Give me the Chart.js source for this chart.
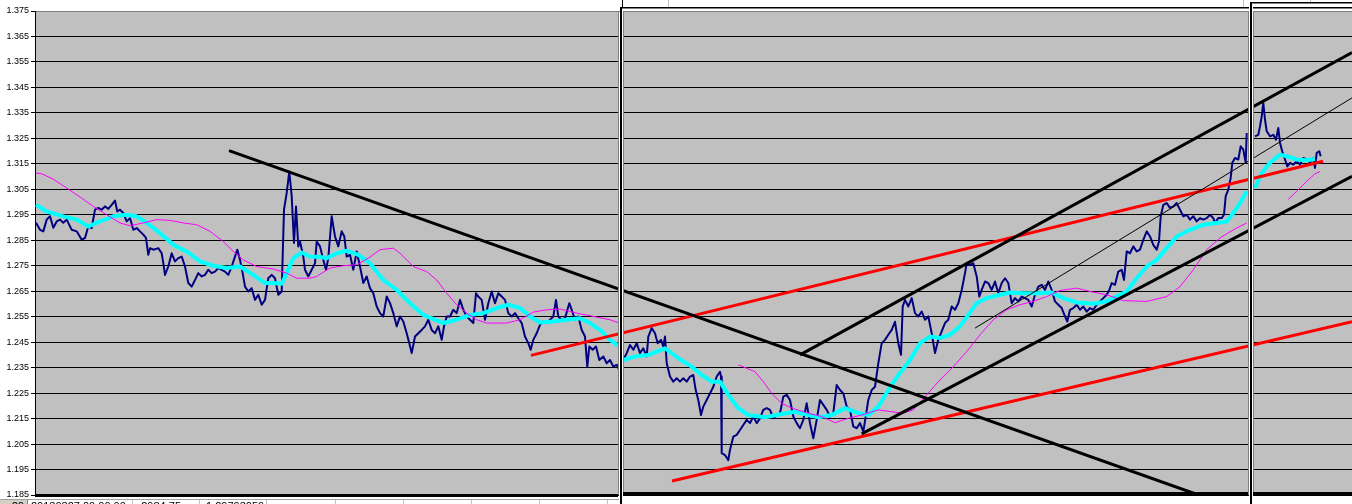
<!DOCTYPE html>
<html>
<head>
<meta charset="utf-8">
<script src="https://cdn.jsdelivr.net/npm/chart.js@4.4.1/dist/chart.umd.min.js"></script>
<style>
  body { margin: 0; background: #fff; }
  #wrap { position: relative; width: 1352px; height: 504px; overflow: hidden; }
  #sheet { position: absolute; left: 0; top: 499px; width: 619px; height: 5px; overflow: hidden;
           border-top: 1px solid #a0a0a0; font: 11px "Liberation Sans", Arial, sans-serif; color: #000; }
  .cell { position: absolute; top: 0; height: 14px; line-height: 13px; border-right: 1px solid #c0c0c0; white-space: nowrap; }
  .hdr { background: #d4d0c8; border-right: 1px solid #808080; text-align: right; }
</style>
</head>
<body>
<div id="wrap">
  <canvas id="chart" width="1352" height="504"></canvas>
  <div id="sheet">
    <div class="cell hdr" style="left:0;width:27px;padding-right:0">20&nbsp;</div>
    <div class="cell" style="left:28px;width:105px;padding-left:3px;box-sizing:border-box">20130827 00:00:00</div>
    <div class="cell" style="left:134px;width:66px;text-align:right;padding-right:18px;box-sizing:border-box">2984.75</div>
    <div class="cell" style="left:201px;width:66px;padding-left:5px;box-sizing:border-box">1.29793059</div>
    <div class="cell" style="left:268px;width:67px"></div>
    <div class="cell" style="left:336px;width:67px"></div>
    <div class="cell" style="left:404px;width:67px"></div>
    <div class="cell" style="left:472px;width:67px"></div>
    <div class="cell" style="left:540px;width:67px"></div>
  </div>
</div>
<script>
// y axis ticks
const yTicks = [1.185, 1.195, 1.205, 1.215, 1.225, 1.235, 1.245, 1.255, 1.265, 1.275,
                1.285, 1.295, 1.305, 1.315, 1.325, 1.335, 1.345, 1.355, 1.365, 1.375];

// price (bar index, close) - one array per chart window
const price1 = [[36,1.2919],[40,1.2891],[43.3,1.2885],[46.7,1.2931],[50,1.2944],[53.3,1.2899],[56.7,1.2924],[60,1.2931],[63.3,1.2919],[66.7,1.2931],
  [71.7,1.2891],[76.7,1.2885],[81.7,1.2852],[85,1.2859],[88.3,1.2904],[91.7,1.2898],[95,1.2970],[98.3,1.2977],[101.7,1.2970],[105,1.2983],
  [108.3,1.2973],[111.7,1.2989],[115,1.3006],[117.3,1.2963],[120,1.2970],[123.3,1.2957],[126.7,1.2924],[130,1.2937],[133.3,1.2891],[136.7,1.2898],
  [140,1.2885],[143.3,1.2872],[146,1.2859],[148.3,1.2793],[150,1.2819],[153.3,1.2813],[158.3,1.2819],[161.7,1.2799],[163.3,1.2760],[165,1.2714],
  [168.3,1.2747],[171.7,1.2799],[175,1.2767],[178.3,1.2780],[181.7,1.2786],[185,1.2747],[188.3,1.2682],[191.7,1.2668],[195,1.2694],[198.3,1.2721],
  [201.7,1.2708],[205,1.2714],[208.3,1.2734],[211.7,1.2721],[215,1.2727],[218.3,1.2741],[221.7,1.2734],[225,1.2727],[228.3,1.2714],[231.7,1.2747],
  [235,1.2786],[237.3,1.2813],[240,1.2773],[242.7,1.2721],[245,1.2668],[248.3,1.2649],[251.7,1.2662],[255,1.2616],[258.3,1.2636],[261.7,1.2597],
  [265,1.2616],[268.3,1.2701],[271.7,1.2714],[275,1.2701],[278.3,1.2636],[281.7,1.2649],[284,1.2970],[286.7,1.3036],[289.3,1.3120],[291.7,1.3023],
  [294,1.2839],[296,1.2983],[298.3,1.2826],[300,1.2845],[303.3,1.2786],[305,1.2734],[308.3,1.2708],[311.7,1.2734],[315,1.2760],[316.7,1.2845],
  [320,1.2826],[323.3,1.2773],[326,1.2734],[328.3,1.2780],[331.7,1.2944],[335,1.2865],[338.3,1.2826],[341.7,1.2885],[344.3,1.2865],[346.7,1.2786],
  [350,1.2793],[353.3,1.2734],[356.7,1.2806],[360,1.2747],[363.3,1.2682],[366.7,1.2708],[370,1.2662],[373.3,1.2642],[376.7,1.2590],[380,1.2564],
  [383.3,1.2551],[386.7,1.2629],[390,1.2603],[393.3,1.2564],[396.7,1.2512],[400,1.2551],[403.3,1.2531],[406.7,1.2485],[409.3,1.2446],[411.7,1.2407],
  [415,1.2472],[418.3,1.2485],[421.7,1.2498],[425,1.2512],[428.3,1.2538],[431.7,1.2498],[435,1.2485],[438.3,1.2512],[441.7,1.2459],[444,1.2512],
  [446.7,1.2551],[450,1.2551],[453.3,1.2577],[456.7,1.2564],[460,1.2616],[463.3,1.2577],[466.7,1.2551],[470,1.2538],[473.3,1.2525],[476,1.2642],
  [478.3,1.2629],[481.7,1.2616],[485,1.2538],[488.3,1.2603],[491.7,1.2649],[495,1.2603],[498.3,1.2642],[501.7,1.2629],[505,1.2616],[508.3,1.2564],
  [511.7,1.2551],[515,1.2564],[518.3,1.2544],[521.7,1.2525],[525,1.2472],[528.3,1.2446],[530.7,1.2420],[533.3,1.2459],[536.7,1.2485],[540,1.2518],
  [543.3,1.2531],[546.7,1.2525],[550,1.2538],[553.3,1.2551],[556,1.2616],[558.3,1.2551],[561.7,1.2538],[565,1.2544],[569.3,1.2603],[571.7,1.2577],
  [575,1.2538],[578.3,1.2551],[581.7,1.2498],[585,1.2472],[587.3,1.2354],[589.3,1.2433],[592.7,1.2420],[596,1.2433],[599.3,1.2380],[603.3,1.2394],
  [606.7,1.2367],[610,1.2380],[613.3,1.2354],[616.7,1.2361],[619.3,1.2341]];
const price2 = [[623.3,1.2380],[626.7,1.2407],[630,1.2439],[633.3,1.2420],[636.7,1.2446],[640,1.2407],[643.3,1.2426],[646.7,1.2394],[648.3,1.2472],[651.7,1.2505],
  [655,1.2485],[657.7,1.2446],[661,1.2459],[663.3,1.2433],[665,1.2472],[666.7,1.2367],[670,1.2315],[673.3,1.2295],[676.7,1.2308],[680,1.2295],
  [683.3,1.2308],[686.7,1.2295],[690,1.2315],[693.3,1.2321],[695.7,1.2262],[698.3,1.2223],[701,1.2164],[703.3,1.2197],[706.7,1.2223],[710,1.2249],
  [713.3,1.2275],[716.7,1.2315],[720,1.2334],[721,1.2315],[721.7,1.2014],[725,1.2007],[728.3,1.1987],[730,1.2027],[733.3,1.2079],[736.7,1.2086],
  [740,1.2105],[743.3,1.2125],[746.7,1.2145],[750,1.2132],[753.3,1.2158],[756.7,1.2132],[760,1.2151],[763.3,1.2184],[766.7,1.2191],[770,1.2184],
  [773.3,1.2151],[776.7,1.2164],[780,1.2171],[783.3,1.2236],[786.7,1.2243],[790,1.2223],[793.3,1.2158],[796.7,1.2132],[800,1.2112],[803.3,1.2145],
  [806.7,1.2210],[810,1.2132],[813.3,1.2073],[816.7,1.2145],[820,1.2223],[823.3,1.2204],[826.7,1.2184],[830,1.2158],[833.3,1.2171],[836.7,1.2282],
  [840,1.2262],[843.3,1.2249],[846.7,1.2197],[850,1.2184],[853.3,1.2119],[856.7,1.2112],[860,1.2132],[863.3,1.2099],[865.7,1.2158],[868.3,1.2223],
  [871.7,1.2262],[875,1.2275],[878.3,1.2367],[881.7,1.2446],[885,1.2459],[888.3,1.2479],[891.7,1.2498],[895,1.2530],[898.3,1.2446],[901,1.2400],
  [902.7,1.2590],[905,1.2616],[908.3,1.2590],[911.7,1.2623],[915,1.2564],[918.3,1.2551],[921.7,1.2570],[925,1.2538],[928.3,1.2551],[931.7,1.2485],
  [935,1.2407],[938.3,1.2459],[941.7,1.2492],[945,1.2525],[948.3,1.2538],[951.7,1.2590],[955,1.2577],[958.3,1.2603],[961.7,1.2655],[965,1.2721],
  [966.7,1.2760],[970,1.2753],[973.3,1.2760],[976.7,1.2708],[979.3,1.2629],[981.7,1.2655],[985,1.2688],[988.3,1.2682],[991.7,1.2655],[995,1.2688],
  [998.3,1.2642],[1001.7,1.2682],[1005,1.2701],[1008.3,1.2682],[1011.7,1.2603],[1015,1.2623],[1018.3,1.2610],[1021.7,1.2629],[1025,1.2623],[1028.3,1.2616],
  [1031.7,1.2590],[1035,1.2636],[1038.3,1.2668],[1041.7,1.2675],[1045,1.2655],[1048.3,1.2688],[1051.7,1.2655],[1055,1.2610],[1058.3,1.2597],[1061.7,1.2584],
  [1065,1.2551],[1067.3,1.2531],[1070,1.2577],[1073.3,1.2584],[1076.7,1.2597],[1080,1.2577],[1083.3,1.2590],[1086.7,1.2570],[1090,1.2584],[1093.3,1.2577],
  [1096.7,1.2597],[1100,1.2610],[1103.3,1.2623],[1106.7,1.2636],[1109.3,1.2655],[1111.7,1.2682],[1115,1.2675],[1118.3,1.2727],[1121.7,1.2734],[1124,1.2694],
  [1126.7,1.2806],[1130,1.2799],[1133.3,1.2826],[1136.7,1.2806],[1140,1.2813],[1143.3,1.2852],[1146.7,1.2885],[1150,1.2865],[1153.3,1.2832],[1156.7,1.2813],
  [1159,1.2845],[1160.7,1.2944],[1163.3,1.2989],[1166.7,1.2996],[1170,1.2977],[1173.3,1.2983],[1176.7,1.2996],[1180,1.2970],[1183.3,1.2944],[1186.7,1.2950],
  [1190,1.2931],[1193.3,1.2944],[1196.7,1.2924],[1200,1.2937],[1203.3,1.2931],[1206.7,1.2937],[1210,1.2950],[1213.3,1.2937],[1215,1.2918],[1218.3,1.2937],
  [1221.7,1.2937],[1224,1.2950],[1225.7,1.3023],[1228.3,1.3049],[1230.7,1.3095],[1232.3,1.3154],[1235,1.3173],[1238.3,1.3167],[1240.7,1.3219],[1243.3,1.3206],
  [1245.7,1.3154],[1246.7,1.3271]];
const price3 = [[1255,1.3258],[1258.3,1.3264],[1260,1.3297],[1261.7,1.3336],[1263.3,1.3389],[1265,1.3324],[1266.7,1.3278],[1270,1.3258],[1273.3,1.3264],[1276,1.3245],
  [1278.3,1.3291],[1280,1.3232],[1282.7,1.3193],[1285,1.3167],[1287.3,1.3140],[1290,1.3154],[1293.3,1.3147],[1296.7,1.3160],[1300,1.3147],[1303.3,1.3173],
  [1306.7,1.3167],[1310,1.3154],[1313.3,1.3173],[1315,1.3134],[1316.7,1.3193],[1319.3,1.3199],[1320.7,1.3180]];

// fast moving average (cyan)
const fast1 = [[36,1.2990],[46.7,1.2963],[63.3,1.2944],[76.7,1.2931],[88.3,1.2904],[100,1.2924],[113.3,1.2944],[126.7,1.2950],[136.7,1.2944],[146.7,1.2918],
  [160,1.2878],[173.3,1.2832],[186.7,1.2806],[200,1.2767],[213.3,1.2750],[226.7,1.2741],[240,1.2747],[253.3,1.2714],[265,1.2682],[273.3,1.2682],
  [281.7,1.2679],[286.7,1.2721],[293.3,1.2780],[301.7,1.2802],[310,1.2786],[320,1.2784],[326.7,1.2780],[336.7,1.2799],[346.7,1.2809],[358.3,1.2793],
  [370,1.2760],[383.3,1.2694],[396.7,1.2655],[410,1.2603],[423.3,1.2557],[443.3,1.2525],[456.7,1.2538],[470,1.2557],[483.3,1.2564],[496.7,1.2584],
  [508.3,1.2597],[520,1.2584],[530,1.2551],[540,1.2527],[553.3,1.2531],[566.7,1.2538],[580,1.2544],[590,1.2525],[600,1.2498],[610,1.2459],[619.3,1.2433]];
const fast2 = [[623.3,1.2380],[635,1.2394],[648.3,1.2400],[665,1.2426],[678.3,1.2387],[691.7,1.2354],[701.7,1.2321],[711.7,1.2295],[720,1.2295],[728.3,1.2243],
  [738.3,1.2191],[748.3,1.2164],[765,1.2155],[781.7,1.2168],[795,1.2177],[808.3,1.2164],[818.3,1.2155],[831.7,1.2164],[845,1.2191],[858.3,1.2171],
  [868.3,1.2164],[878.3,1.2197],[888.3,1.2262],[898.3,1.2321],[910,1.2380],[920,1.2446],[930,1.2472],[940,1.2466],[950,1.2479],[960,1.2512],
  [968.3,1.2557],[976.7,1.2603],[986.7,1.2623],[1000,1.2636],[1010,1.2645],[1023.3,1.2642],[1036.7,1.2642],[1051.7,1.2645],[1063.3,1.2623],[1076.7,1.2606],
  [1093.3,1.2601],[1106.7,1.2610],[1113.3,1.2623],[1126.7,1.2649],[1136.7,1.2701],[1146.7,1.2747],[1156.7,1.2773],[1166.7,1.2819],[1176.7,1.2865],[1190,1.2891],
  [1203.3,1.2911],[1220,1.2920],[1226.7,1.2924],[1233.3,1.2957],[1240,1.2996],[1246.7,1.3042]];
const fast3 = [[1255,1.3055],[1261.7,1.3114],[1270,1.3154],[1280,1.3186],[1286.7,1.3180],[1296.7,1.3167],[1306.7,1.3164],[1315,1.3169]];

// slow moving average (magenta)
const slow1 = [[36,1.3114],[41.7,1.3111],[53.3,1.3090],[66.7,1.3055],[80,1.3020],[93.3,1.2983],[106.7,1.2950],[120,1.2918],[130,1.2907],[143.3,1.2918],
  [156.7,1.2931],[170,1.2928],[183.3,1.2918],[196.7,1.2911],[210,1.2885],[223.3,1.2845],[233.3,1.2806],[243.3,1.2773],[256.7,1.2747],[273.3,1.2737],
  [286.7,1.2721],[296.7,1.2701],[310,1.2701],[316.7,1.2708],[330,1.2741],[343.3,1.2750],[356.7,1.2754],[370,1.2784],[380,1.2813],[393.3,1.2819],
  [400,1.2799],[413.3,1.2747],[426.7,1.2727],[436.7,1.2694],[446.7,1.2642],[456.7,1.2597],[466.7,1.2564],[476.7,1.2538],[486.7,1.2525],[506.7,1.2525],
  [520,1.2538],[533.3,1.2568],[546.7,1.2577],[560,1.2580],[576.7,1.2564],[593.3,1.2551],[610,1.2538],[619.3,1.2525]];
const slow2 = [[738.3,1.2361],[755,1.2334],[763.3,1.2295],[771.7,1.2249],[781.7,1.2210],[791.7,1.2191],[808.3,1.2171],[821.7,1.2158],[835,1.2134],[848.3,1.2151],
  [861.7,1.2164],[878.3,1.2184],[891.7,1.2177],[903.3,1.2171],[913.3,1.2184],[926.7,1.2243],[940,1.2302],[953.3,1.2354],[966.7,1.2413],[980,1.2479],
  [993.3,1.2538],[1006.7,1.2577],[1020,1.2597],[1033.3,1.2610],[1046.7,1.2629],[1060,1.2653],[1076.7,1.2662],[1090,1.2649],[1106.7,1.2636],[1123.3,1.2613],
  [1146.7,1.2610],[1166.7,1.2629],[1180,1.2668],[1193.3,1.2734],[1206.7,1.2813],[1220,1.2859],[1233.3,1.2891],[1246.7,1.2918]];
const slow3 = [[1288.3,1.3011],[1296.7,1.3042],[1306.7,1.3081],[1315,1.3111],[1320,1.3120]];

// hand drawn trend lines: [start, end]
const downTrend    = [[229, 1.3202], [1195, 1.1855]];
const channelTop   = [[800, 1.2400], [1352, 1.3587]];
const channelBase  = [[861.7, 1.2090], [1352, 1.3101]];
const channelMid   = [[975, 1.2505], [1352, 1.3409]];
const redUpper     = [[531, 1.2398], [1323, 1.3160]];
const redLower     = [[672, 1.1905], [1352, 1.2530]];

// chart windows (bar index ranges) and their frames
const panels = [[35, 619], [623, 1249], [1253, 1352]];
const frameTops = [7, 2];

const pts = a => a.map(([x, y]) => ({x, y}));
const joined = (...parts) => parts.flatMap((p, i) => i ? [{x: p[0][0] - 1, y: null}, ...pts(p)] : pts(p));
const line = (data, color, width) => ({data, borderColor: color, borderWidth: width, pointRadius: 0,
  tension: 0, fill: false, spanGaps: false, borderJoinStyle: 'round'});

const decor = {
  id: 'decor',
  beforeDraw(chart) {
    const {ctx, chartArea: a} = chart;
    ctx.save();
    ctx.fillStyle = '#fff';
    ctx.fillRect(0, 0, chart.width, chart.height);
    ctx.fillStyle = '#c0c0c0';
    ctx.fillRect(a.left, a.top, a.right - a.left, a.bottom - a.top);
    ctx.restore();
  },
  afterDraw(chart) {
    const {ctx, scales: {x, y}} = chart;
    const top = Math.round(y.getPixelForValue(yTicks[yTicks.length - 1]));
    const bot = Math.round(y.getPixelForValue(yTicks[0]));
    ctx.save();
    // gaps between the windows
    for (let i = 0; i < panels.length - 1; i++) {
      const g0 = Math.round(x.getPixelForValue(panels[i][1]));
      const g1 = Math.round(x.getPixelForValue(panels[i + 1][0]));
      ctx.fillStyle = '#fff';
      ctx.fillRect(g0, 0, g1 - g0, chart.height);
      ctx.fillStyle = '#000';
      ctx.fillRect(g0 + 1, frameTops[i], 2, chart.height - frameTops[i]);
      ctx.fillRect(g0 + 1, frameTops[i], chart.width - g0, 1.5);
      ctx.fillStyle = '#808080';
      ctx.fillRect(g0 - 1, top, 1, bot - top);
      ctx.fillRect(g1, top, 1, bot - top);
    }
    // plot borders
    panels.forEach(([p0, p1], i) => {
      const l = Math.round(x.getPixelForValue(p0));
      const r = Math.round(x.getPixelForValue(p1));
      ctx.fillStyle = '#808080';
      ctx.fillRect(i ? l : l + 1, top, r - l, 1);
      ctx.fillStyle = '#000';
      ctx.fillRect(l, i ? bot - 3 : bot - 1, r - l - (i < panels.length - 1 ? 1 : 0), 3);
    });
    // spreadsheet column marks behind the windows
    ctx.fillStyle = '#c0c0c0';
    ctx.fillRect(668, 0, 1, frameTops[0]);
    ctx.fillRect(1243, 0, 1, frameTops[0]);
    ctx.fillRect(1310, 0, 1, frameTops[1]);
    ctx.fillStyle = '#000';
    ctx.fillRect(622, 0, 1, frameTops[0]);
    ctx.restore();
  }
};

new Chart(document.getElementById('chart'), {
  type: 'line',
  data: {
    datasets: [
      line(pts(downTrend), '#000', 3),
      line(pts(channelTop), '#000', 3),
      line(pts(channelBase), '#000', 3),
      line(pts(channelMid), '#000', 1),
      line(pts(redUpper), '#ff0000', 3),
      line(pts(redLower), '#ff0000', 3),
      line(joined(slow1, slow2, slow3), '#ff00ff', 1),
      line(joined(fast1, fast2, fast3), '#00ffff', 4),
      line(joined(price1, price2, price3), '#000080', 2)
    ]
  },
  options: {
    responsive: false,
    animation: false,
    events: [],
    layout: {padding: {top: 11, bottom: 9, left: 0, right: 0}},
    plugins: {legend: {display: false}, tooltip: {enabled: false}},
    scales: {
      x: {type: 'linear', min: 35, max: 1352, display: false},
      y: {
        position: 'left',
        min: yTicks[0],
        max: yTicks[yTicks.length - 1],
        afterFit: s => { s.width = 35; },
        afterBuildTicks: s => { s.ticks = yTicks.map(v => ({value: v})); },
        ticks: {
          autoSkip: false,
          padding: 2,
          color: '#000',
          font: {family: '"Liberation Sans", Arial, sans-serif', size: 9},
          callback: v => v.toFixed(3)
        },
        grid: {color: '#000', lineWidth: 1, tickLength: 4, tickColor: '#000'},
        border: {color: '#000', width: 1}
      }
    }
  },
  plugins: [decor]
});
</script>
</body>
</html>
